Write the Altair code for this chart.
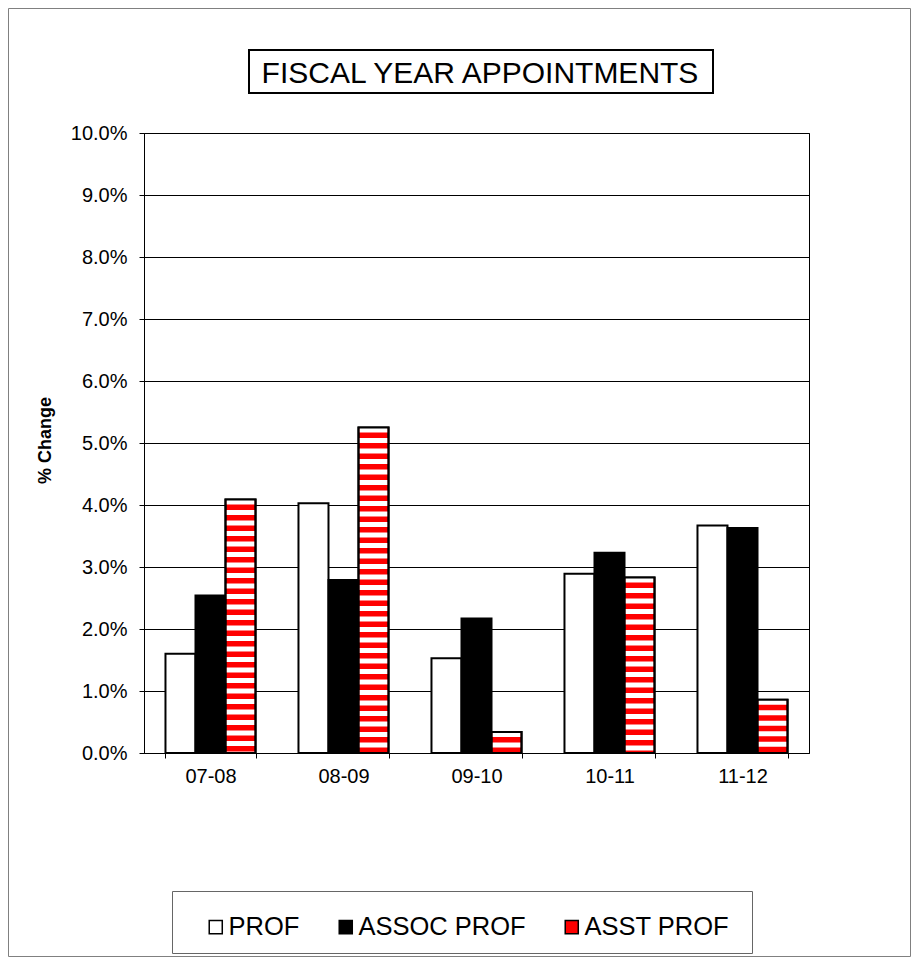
import altair as alt
import pandas as pd

# ---- data ----
CATEGORIES = ["07-08", "08-09", "09-10", "10-11", "11-12"]
SERIES = ["PROF", "ASSOC PROF", "ASST PROF"]
PROF = [1.60, 4.03, 1.53, 2.89, 3.67]
ASSOC_PROF = [2.54, 2.79, 2.17, 3.23, 3.63]
ASST_PROF = [4.09, 5.25, 0.34, 2.83, 0.86]
Y_TICKS = [0, 1, 2, 3, 4, 5, 6, 7, 8, 9, 10]
TITLE = "FISCAL YEAR APPOINTMENTS"
Y_TITLE = "% Change"
SERIES_COLORS = ["#ffffff", "#000000", "#ff0000"]

rows = []
for name, vals in zip(SERIES, [PROF, ASSOC_PROF, ASST_PROF]):
    for c, v in zip(CATEGORIES, vals):
        rows.append({"year": c, "series": name, "value": v / 100.0})
df = pd.DataFrame(rows)

FONT = "Liberation Sans"
PW, PH = 665, 620

x_enc = alt.X(
    "year:N",
    sort=CATEGORIES,
    scale=alt.Scale(paddingInner=0.323, paddingOuter=0.1615),
    axis=alt.Axis(
        title=None, labelAngle=0, labelFontSize=20, labelFont=FONT,
        labelColor="black", labelPadding=8, tickBand="extent", tickSize=5,
        tickColor="black", domainColor="black", grid=False,
    ),
)
xoff = alt.XOffset(
    "series:N", sort=SERIES,
    scale=alt.Scale(domain=SERIES, paddingInner=0, paddingOuter=0),
)
y_enc = alt.Y(
    "value:Q",
    scale=alt.Scale(domain=[0, 0.1], nice=False),
    axis=alt.Axis(
        values=[t / 100.0 for t in Y_TICKS], format=".1%",
        labelFontSize=20, labelFont=FONT, labelColor="black", labelPadding=12,
        tickSize=5, tickColor="black", domainColor="black",
        grid=True, gridColor="black", gridWidth=1,
        title=Y_TITLE, titleFont=FONT, titleFontSize=18, titleFontWeight="bold",
        titleColor="black", titleX=-99, titleY=307, titleAngle=270,
        titleAlign="center", titleBaseline="middle",
    ),
)

base = alt.Chart(df)

bars = base.mark_bar(stroke="black", strokeWidth=2).encode(
    x=x_enc,
    xOffset=xoff,
    y=y_enc,
    color=alt.Color(
        "series:N",
        sort=SERIES,
        scale=alt.Scale(domain=SERIES, range=SERIES_COLORS),
        legend=alt.Legend(
            title=None, orient="none", legendX=56, legendY=781,
            direction="horizontal", columns=3, labelFont=FONT,
            labelFontSize=25.5, labelColor="black", labelLimit=400,
            labelOffset=0, columnPadding=30, padding=0, symbolOffset=3,
            symbolType="square", symbolSize=170, symbolStrokeColor="black",
            symbolStrokeWidth=1.5,
        ),
    ),
)

stripes = base.transform_filter(alt.datum.series == "ASST PROF").mark_rule(
    color="white", strokeWidth=28, strokeDash=[5, 5.5], strokeCap="butt"
).encode(
    x=alt.X("year:N", sort=CATEGORIES),
    xOffset=alt.XOffset("series:N", sort=SERIES),
    y=alt.Y("value:Q"),
    y2=alt.datum(0),
)

outlines = base.transform_filter(alt.datum.series == "ASST PROF").mark_bar(
    fillOpacity=0, stroke="black", strokeWidth=2
).encode(
    x=alt.X("year:N", sort=CATEGORIES),
    xOffset=alt.XOffset("series:N", sort=SERIES),
    y=alt.Y("value:Q"),
)

deco = pd.DataFrame({"k": [0]})
frame = alt.Chart(deco).mark_rect(fillOpacity=0, stroke="#808080", strokeWidth=1).encode(
    x=alt.value(-135.5), x2=alt.value(766.5), y=alt.value(-124.5), y2=alt.value(823.5)
)
title_box = alt.Chart(deco).mark_rect(fill="white", stroke="black", strokeWidth=2).encode(
    x=alt.value(105), x2=alt.value(569), y=alt.value(-83), y2=alt.value(-40)
)
legend_box = alt.Chart(deco).mark_rect(fill="white", stroke="#666666", strokeWidth=1).encode(
    x=alt.value(28.5), x2=alt.value(608.5), y=alt.value(758.5), y2=alt.value(820.5)
)
title_text = alt.Chart(pd.DataFrame({"t": [TITLE]})).mark_text(
    fontSize=30, font=FONT, align="center", baseline="alphabetic", color="black"
).encode(text="t:N", x=alt.value(336), y=alt.value(-50))

chart = alt.layer(
    frame, title_box, legend_box, bars, stripes, outlines, title_text
).properties(
    width=PW, height=PH,
    autosize=alt.AutoSizeParams(type="none"),
    padding={"left": 136, "top": 125, "right": 102, "bottom": 204},
    background="white",
).configure_view(stroke="black", strokeWidth=1)

chart.save("out.html", embed_options={"renderer": "svg", "actions": False})
